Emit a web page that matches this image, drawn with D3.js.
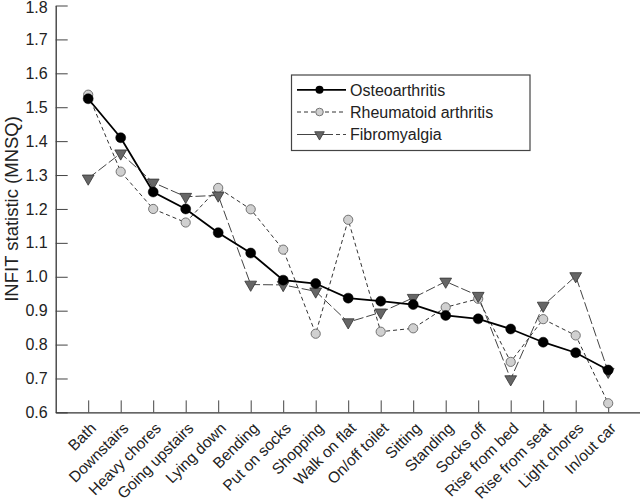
<!DOCTYPE html>
<html>
<head>
<meta charset="utf-8">
<script src="https://cdn.jsdelivr.net/npm/d3@7"></script>
<style>
  html, body { margin: 0; padding: 0; background: #fff; }
  svg { display: block; font-family: "Liberation Sans", Arial, Helvetica, sans-serif; }
</style>
</head>
<body>
<svg id="chart" width="640" height="499"></svg>
<script>
const categories = ["Bath", "Downstairs", "Heavy chores", "Going upstairs", "Lying down", "Bending",
  "Put on socks", "Shopping", "Walk on flat", "On/off toilet", "Sitting", "Standing", "Socks off",
  "Rise from bed", "Rise from seat", "Light chores", "In/out car"];
const osteo = [1.525, 1.41, 1.25, 1.20, 1.13, 1.07, 0.99, 0.98, 0.937, 0.928, 0.918, 0.886, 0.876, 0.846, 0.807, 0.776, 0.725];
const rheum = [1.537, 1.31, 1.20, 1.16, 1.262, 1.199, 1.08, 0.832, 1.168, 0.838, 0.848, 0.91, 0.935, 0.749, 0.875, 0.827, 0.627];
const fibro = [1.29, 1.364, 1.278, 1.236, 1.24, 0.977, 0.976, 0.957, 0.866, 0.895, 0.938, 0.986, 0.944, 0.698, 0.915, 1.002, 0.72];
const yTicks = [0.6, 0.7, 0.8, 0.9, 1.0, 1.1, 1.2, 1.3, 1.4, 1.5, 1.6, 1.7, 1.8];
const seriesNames = ["Osteoarthritis", "Rheumatoid arthritis", "Fibromyalgia"];
const yTitle = "INFIT statistic (MNSQ)";

const svg = d3.select("#chart");
const x = d3.scaleLinear().domain([0, 18]).range([55.7, 640.7]);
const y = d3.scaleLinear().domain([0.6, 1.8]).range([412.4, 5.5]);

// Y axis
const yAxis = d3.axisLeft(y).tickValues(yTicks).tickFormat(d3.format(".1f"))
  .tickSizeInner(-12).tickSizeOuter(0).tickPadding(8);
const gy = svg.append("g").attr("transform", `translate(${x(0)},0)`).call(yAxis);
gy.select(".domain").attr("stroke", "#333").attr("stroke-width", 1.3);
gy.selectAll(".tick line").attr("stroke", "#444").attr("stroke-width", 1);
gy.selectAll(".tick text").attr("font-size", 16).attr("fill", "#222")
  .attr("dy", d => d === 1.8 ? "0.42em" : "0.32em");

// X axis
const xAxis = d3.axisBottom(x).tickValues(d3.range(1, 19)).tickFormat("")
  .tickSizeInner(-12).tickSizeOuter(0);
const gx = svg.append("g").attr("transform", `translate(0,${y(0.6)})`).call(xAxis);
gx.select(".domain").attr("stroke", "#333").attr("stroke-width", 1.3);
gx.selectAll(".tick line").attr("stroke", "#444").attr("stroke-width", 1);

// Category labels
svg.append("g").selectAll("text").data(categories).join("text")
  .attr("transform", (d, i) => `translate(${x(i + 1) + 1},${y(0.6) + 9}) rotate(-45)`)
  .attr("text-anchor", "end")
  .attr("dy", "0.71em")
  .attr("font-size", 15.5)
  .attr("fill", "#222")
  .text(d => d);

// Y title
svg.append("text")
  .attr("transform", `translate(18,${(y(0.6) + y(1.8)) / 2}) rotate(-90)`)
  .attr("text-anchor", "middle")
  .attr("font-size", 18.5)
  .attr("fill", "#222")
  .text(yTitle);

const line = d3.line().x((d, i) => x(i + 1)).y(d => y(d));
const tri = d3.symbol().type(d3.symbolTriangle).size(60);

// Rheumatoid
svg.append("path").datum(rheum).attr("d", line)
  .attr("fill", "none").attr("stroke", "#333").attr("stroke-width", 1).attr("stroke-dasharray", "4,3");
svg.append("g").selectAll("circle").data(rheum).join("circle")
  .attr("cx", (d, i) => x(i + 1)).attr("cy", d => y(d)).attr("r", 4.6)
  .attr("fill", "#d0d0d0").attr("stroke", "#666").attr("stroke-width", 0.9);

// Fibromyalgia
svg.append("path").datum(fibro).attr("d", line)
  .attr("fill", "none").attr("stroke", "#444").attr("stroke-width", 1).attr("stroke-dasharray", "10,3");
svg.append("g").selectAll("path").data(fibro).join("path")
  .attr("d", tri)
  .attr("transform", (d, i) => `translate(${x(i + 1)},${y(d)}) rotate(180)`)
  .attr("fill", "#666").attr("stroke", "#333").attr("stroke-width", 0.8);

// Osteoarthritis
svg.append("path").datum(osteo).attr("d", line)
  .attr("fill", "none").attr("stroke", "#000").attr("stroke-width", 1.8);
svg.append("g").selectAll("circle").data(osteo).join("circle")
  .attr("cx", (d, i) => x(i + 1)).attr("cy", d => y(d)).attr("r", 5)
  .attr("fill", "#000").attr("stroke", "#000").attr("stroke-width", 0.5);

// Legend
const lg = svg.append("g");
lg.append("rect").attr("x", 291.5).attr("y", 75).attr("width", 238.5).attr("height", 75.5)
  .attr("fill", "#fff").attr("stroke", "#444").attr("stroke-width", 1.2);
const rows = [89.8, 112, 134.5];
const lx0 = 297, lx1 = 346, lmx = 319.5;
// osteo
lg.append("line").attr("x1", lx0).attr("x2", lx1).attr("y1", rows[0]).attr("y2", rows[0])
  .attr("stroke", "#000").attr("stroke-width", 1.8);
lg.append("circle").attr("cx", lmx).attr("cy", rows[0]).attr("r", 4).attr("fill", "#000");
// rheum
lg.append("line").attr("x1", lx0).attr("x2", lx1).attr("y1", rows[1]).attr("y2", rows[1])
  .attr("stroke", "#333").attr("stroke-width", 1).attr("stroke-dasharray", "4,3");
lg.append("circle").attr("cx", lmx).attr("cy", rows[1]).attr("r", 3.8)
  .attr("fill", "#d0d0d0").attr("stroke", "#666").attr("stroke-width", 0.9);
// fibro
lg.append("line").attr("x1", lx0).attr("x2", lx1).attr("y1", rows[2]).attr("y2", rows[2])
  .attr("stroke", "#444").attr("stroke-width", 1).attr("stroke-dasharray", "36,3,4,3");
lg.append("path").attr("d", d3.symbol().type(d3.symbolTriangle).size(40))
  .attr("transform", `translate(${lmx},${rows[2]}) rotate(180)`)
  .attr("fill", "#666").attr("stroke", "#333").attr("stroke-width", 0.8);
lg.selectAll("text.lab").data(seriesNames).join("text")
  .attr("class", "lab")
  .attr("x", 350).attr("y", (d, i) => rows[i]).attr("dy", "0.36em")
  .attr("font-size", 16).attr("fill", "#222")
  .text(d => d);
</script>
</body>
</html>
